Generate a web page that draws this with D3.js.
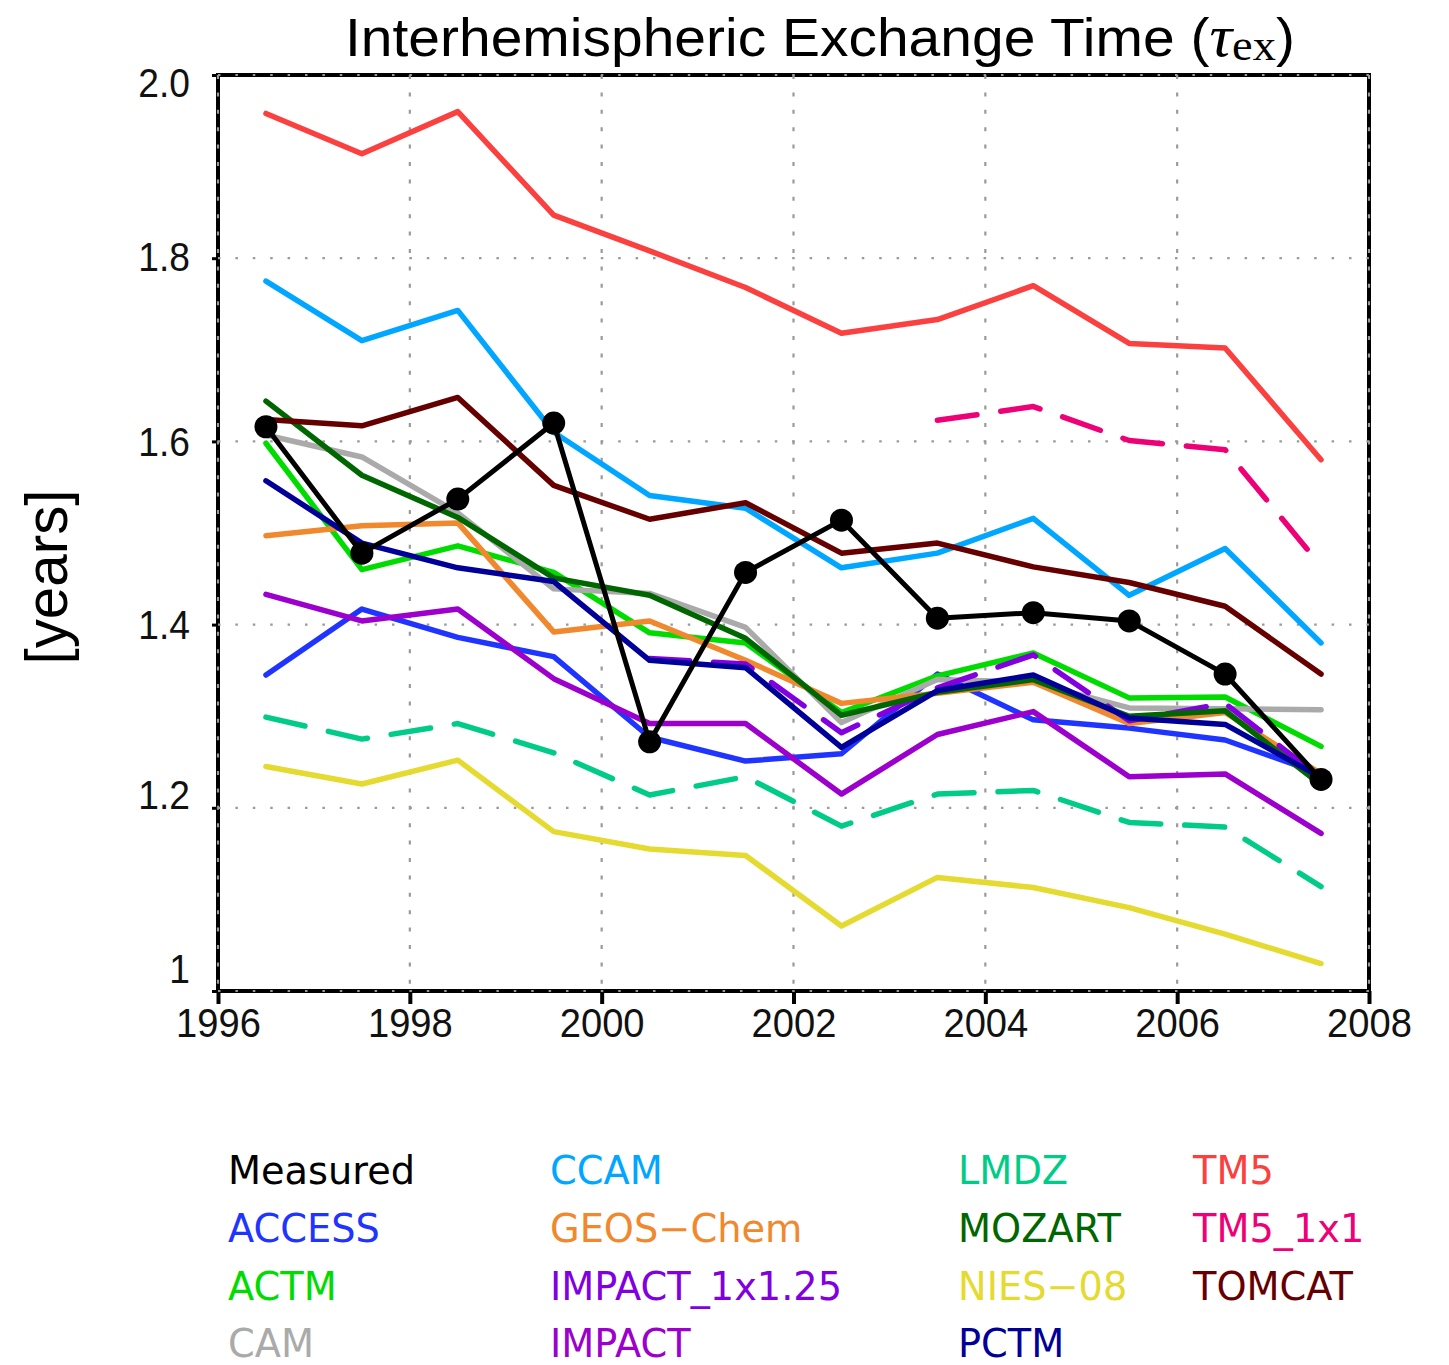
<!DOCTYPE html>
<html>
<head>
<meta charset="utf-8">
<script src="https://cdn.jsdelivr.net/npm/d3@7"></script>
<style>
  html, body { margin: 0; padding: 0; background: #fff; }
  svg { display: block; }
</style>
</head>
<body>
<svg id="chart" width="1449" height="1365"></svg>
<script>
// Annual mean interhemispheric exchange time (years), mid-year samples
const years = [1996.5, 1997.5, 1998.5, 1999.5, 2000.5, 2001.5, 2002.5, 2003.5, 2004.5, 2005.5, 2006.5, 2007.5];

const measured     = [1.616, 1.478, 1.537, 1.620, 1.272, 1.457, 1.514, 1.407, 1.413, 1.404, 1.346, 1.231];
const access       = [1.345, 1.417, 1.386, 1.365, 1.277, 1.251, 1.259, 1.346, 1.296, 1.287, 1.274, 1.237];
const actm         = [1.598, 1.460, 1.486, 1.457, 1.391, 1.380, 1.304, 1.344, 1.369, 1.320, 1.321, 1.267];
const cam          = [1.607, 1.583, 1.522, 1.439, 1.434, 1.397, 1.293, 1.340, 1.337, 1.309, 1.308, 1.307];
const ccam         = [1.775, 1.710, 1.743, 1.610, 1.541, 1.527, 1.462, 1.478, 1.516, 1.432, 1.483, 1.380];
const geosChem     = [1.497, 1.508, 1.511, 1.392, 1.404, 1.361, 1.314, 1.325, 1.337, 1.292, 1.304, 1.237];
const impact1x125  = [null, null, null, null, 1.363, 1.357, 1.282, 1.331, 1.367, 1.295, 1.314, 1.232];
const impact       = [1.433, 1.404, 1.417, 1.341, 1.292, 1.292, 1.215, 1.280, 1.305, 1.234, 1.237, 1.172];
const lmdz         = [1.299, 1.275, 1.292, 1.260, 1.214, 1.234, 1.180, 1.215, 1.219, 1.184, 1.179, 1.114];
const mozart       = [1.644, 1.563, 1.517, 1.451, 1.432, 1.385, 1.301, 1.326, 1.340, 1.300, 1.306, 1.225];
const nies08       = [1.245, 1.226, 1.252, 1.174, 1.155, 1.148, 1.071, 1.124, 1.113, 1.091, 1.062, 1.030];
const pctm         = [1.557, 1.489, 1.462, 1.447, 1.361, 1.353, 1.266, 1.328, 1.345, 1.298, 1.291, 1.233];
const tm5          = [1.958, 1.914, 1.960, 1.847, 1.808, 1.768, 1.718, 1.733, 1.770, 1.707, 1.702, 1.580];
const tm5_1x1      = [null, null, null, null, null, null, null, 1.623, 1.638, 1.601, 1.591, 1.464];
const tomcat       = [1.624, 1.617, 1.648, 1.552, 1.515, 1.533, 1.478, 1.489, 1.463, 1.446, 1.420, 1.346];

const xTicks = [1996, 1998, 2000, 2002, 2004, 2006, 2008];
const yTicks = [1.0, 1.2, 1.4, 1.6, 1.8, 2.0];
const yTickLabels = ["1", "1.2", "1.4", "1.6", "1.8", "2.0"];

// Series table: drawing order follows the legend, the measured record goes on top
const series = [
  { name: "ACCESS",        values: access,      color: "#1f35ff", dash: null },
  { name: "ACTM",          values: actm,        color: "#00dc00", dash: null },
  { name: "CAM",           values: cam,         color: "#aaaaaa", dash: null },
  { name: "CCAM",          values: ccam,        color: "#00a6ff", dash: null },
  { name: "GEOS−Chem",     values: geosChem,    color: "#f0882e", dash: null },
  { name: "IMPACT_1x1.25", values: impact1x125, color: "#8200e0", dash: "40,24" },
  { name: "IMPACT",        values: impact,      color: "#9c00cc", dash: null },
  { name: "LMDZ",          values: lmdz,        color: "#00cc88", dash: "40,24" },
  { name: "MOZART",        values: mozart,      color: "#006600", dash: null },
  { name: "NIES−08",       values: nies08,      color: "#e4da30", dash: null },
  { name: "PCTM",          values: pctm,        color: "#000099", dash: null },
  { name: "TM5",           values: tm5,         color: "#fb4040", dash: null },
  { name: "TM5_1x1",       values: tm5_1x1,     color: "#ee0077", dash: "40,24" },
  { name: "TOMCAT",        values: tomcat,      color: "#660000", dash: null }
];
const legendEntries = [{ name: "Measured", color: "#000000" }].concat(series);

const svg = d3.select("#chart");
const plot = { left: 218, right: 1369, top: 75, bottom: 991 };

const x = d3.scaleLinear().domain([1996, 2008]).range([plot.left, plot.right]);
const y = d3.scaleLinear().domain([1.0, 2.0]).range([plot.bottom, plot.top]);

// Frame
svg.append("rect")
  .attr("x", plot.left).attr("y", plot.top)
  .attr("width", plot.right - plot.left).attr("height", plot.bottom - plot.top)
  .attr("fill", "#fff").attr("stroke", "#000").attr("stroke-width", 4);

// Outward major ticks
const xAxis = d3.axisBottom(x).tickValues(xTicks).tickSize(13).tickFormat(d3.format("d"));
const gx = svg.append("g").attr("transform", `translate(0,${plot.bottom})`).call(xAxis);
gx.select(".domain").remove();
gx.selectAll(".tick line").attr("stroke", "#000").attr("stroke-width", 4);
gx.selectAll(".tick text")
  .attr("y", 0).attr("dy", null)
  .attr("transform", "translate(0,46) scale(0.93,1)")
  .style("font-family", "'Liberation Sans', Arial, sans-serif")
  .style("font-size", "41px").attr("fill", "#111");

const yAxis = d3.axisLeft(y).tickValues(yTicks).tickSize(6)
  .tickFormat((d, i) => yTickLabels[i]);
const gy = svg.append("g").attr("transform", `translate(${plot.left},0)`).call(yAxis);
gy.select(".domain").remove();
gy.selectAll(".tick line").attr("stroke", "#000").attr("stroke-width", 3);
// end labels are kept clear of the corners
const yNudge = { "1": -23, "1.2": -13, "1.4": 0, "1.6": 0, "1.8": -2, "2.0": 7 };
gy.selectAll(".tick text")
  .attr("x", 0).attr("dy", null)
  .attr("y", (d, i) => 14 + yNudge[yTickLabels[i]])
  .attr("transform", "translate(-28,0) scale(0.93,1)")
  .style("font-family", "'Liberation Sans', Arial, sans-serif")
  .style("font-size", "40px").attr("fill", "#111");

// Dotted grid, drawn over the frame edges as well
const grid = svg.append("g").attr("stroke", "#9a9a9a").attr("stroke-width", 2.2);
grid.selectAll("line.v").data(xTicks).join("line")
  .attr("x1", d => x(d)).attr("x2", d => x(d))
  .attr("y1", plot.top).attr("y2", plot.bottom)
  .attr("stroke-dasharray", "4,13.4");
grid.selectAll("line.h").data(yTicks).join("line")
  .attr("x1", plot.left).attr("x2", plot.right)
  .attr("y1", d => y(d)).attr("y2", d => y(d))
  .attr("stroke-dasharray", "2.5,14.9");

// Model lines
const line = d3.line()
  .defined(d => d[1] != null)
  .x(d => x(d[0]))
  .y(d => y(d[1]));

const lines = svg.append("g").attr("fill", "none")
  .attr("stroke-linejoin", "round").attr("stroke-linecap", "round");
series.forEach(s => {
  lines.append("path")
    .datum(years.map((yr, i) => [yr, s.values[i]]))
    .attr("d", line)
    .attr("stroke", s.color)
    .attr("stroke-width", 5.5)
    .attr("stroke-dasharray", s.dash);
});

// Measured record with markers
const measuredPts = years.map((yr, i) => [yr, measured[i]]);
lines.append("path").datum(measuredPts).attr("d", line)
  .attr("stroke", "#000").attr("stroke-width", 5);
svg.append("g").selectAll("circle").data(measuredPts).join("circle")
  .attr("cx", d => x(d[0])).attr("cy", d => y(d[1])).attr("r", 11.5)
  .attr("fill", "#000");

// Title
const title = svg.append("g");
const tText = title.append("text")
  .attr("x", 0).attr("y", 56)
  .style("font-family", "'Liberation Sans', Arial, sans-serif")
  .style("font-size", "54px").attr("fill", "#000");
tText.append("tspan").text("Interhemispheric Exchange Time (");
tText.append("tspan").text("τ")
  .style("font-family", "'Liberation Serif', 'DejaVu Serif', serif")
  .style("font-style", "italic").style("font-size", "60px");
tText.append("tspan").text("ex").attr("dy", 4)
  .style("font-family", "'Liberation Serif', 'DejaVu Serif', serif")
  .style("font-size", "44px");
tText.append("tspan").text(")").attr("dy", -4);
{
  const bb = tText.node().getBBox();
  const sx = 950 / bb.width;
  title.attr("transform", `translate(345,0) scale(${sx},1) translate(${-bb.x},0)`);
}

// Y axis title
const yTitle = svg.append("g");
const yText = yTitle.append("text")
  .attr("text-anchor", "middle")
  .style("font-family", "'Liberation Sans', Arial, sans-serif")
  .style("font-size", "60px").attr("fill", "#000")
  .text("[years]");
{
  const bb = yText.node().getBBox();
  const sx = 175 / bb.width;
  yTitle.attr("transform", `translate(67,577) rotate(-90) scale(${sx},1)`);
}

// Legend: four columns, filled top to bottom
const legCols = [228, 550, 958, 1193];
const legRows = [1184, 1242, 1300, 1357];
svg.append("g").selectAll("text").data(legendEntries).join("text")
  .attr("x", (d, i) => legCols[Math.floor(i / 4)])
  .attr("y", (d, i) => legRows[i % 4])
  .style("font-family", "'DejaVu Sans', sans-serif")
  .style("font-size", "38.3px")
  .attr("fill", d => d.color)
  .text(d => d.name);
</script>
</body>
</html>
